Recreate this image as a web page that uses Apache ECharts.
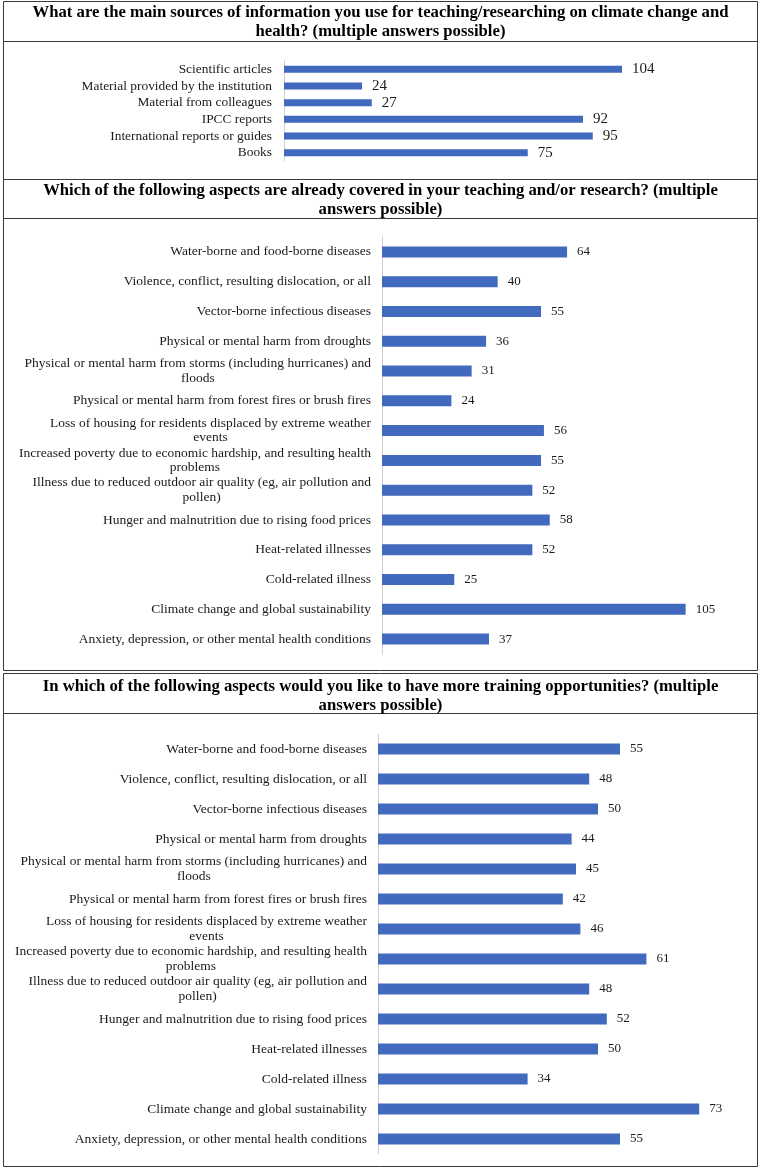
<!DOCTYPE html>
<html>
<head>
	<meta charset="utf-8">
	<title>Climate change and health survey</title>
	<script src="https://cdn.jsdelivr.net/npm/echarts@6/dist/echarts.min.js"></script>
	<style type="text/css">
		html, body { margin: 0; padding: 0; background: #ffffff; }
		#main { width: 761px; height: 1175px; }
	</style>
</head>
<body>
	<div id="main"></div>
	<script type="text/javascript">
		// panel 1: sources of information
		var sources = ['Scientific articles', 'Material provided by the institution', 'Material from colleagues',
			'IPCC reports', 'International reports or guides', 'Books'];
		var sourceCounts = [104, 24, 27, 92, 95, 75];

		// panels 2 and 3 share the same aspects
		var aspects = [
			'Water-borne and food-borne diseases',
			'Violence, conflict, resulting dislocation, or all',
			'Vector-borne infectious diseases',
			'Physical or mental harm from droughts',
			'Physical or mental harm from storms (including hurricanes) and\nfloods',
			'Physical or mental harm from forest fires or brush fires',
			'Loss of housing for residents displaced by extreme weather\nevents',
			'Increased poverty due to economic hardship, and resulting health\nproblems',
			'Illness due to reduced outdoor air quality (eg, air pollution and\npollen)',
			'Hunger and malnutrition due to rising food prices',
			'Heat-related illnesses',
			'Cold-related illness',
			'Climate change and global sustainability',
			'Anxiety, depression, or other mental health conditions'
		];
		var coveredCounts = [64, 40, 55, 36, 31, 24, 56, 55, 52, 58, 52, 25, 105, 37];
		var trainingCounts = [55, 48, 50, 44, 45, 42, 46, 61, 48, 52, 50, 34, 73, 55];

		var titles = [
			'What are the main sources of information you use for teaching/researching on climate change and\nhealth? (multiple answers possible)',
			'Which of the following aspects are already covered in your teaching and/or research? (multiple\nanswers possible)',
			'In which of the following aspects would you like to have more training opportunities? (multiple\nanswers possible)'
		];

		var FONT = 'Liberation Serif';
		var BLUE = '#4169BE';

		function catAxis(idx, data, size, margin) {
			return {
				type: 'category',
				gridIndex: idx,
				data: data,
				inverse: true,
				axisLine: { lineStyle: { color: '#d0d0d0', width: 1 } },
				axisTick: { show: false },
				axisLabel: {
					interval: 0,
					margin: margin,
					color: '#1a1a1a',
					fontFamily: FONT,
					fontSize: size,
					formatter: function (v) { return '{c|' + v + '}'; },
					rich: { c: { align: 'center', fontFamily: FONT, fontSize: size, lineHeight: 14.5, color: '#1a1a1a' } }
				}
			};
		}
		function valAxis(idx, max) {
			return { type: 'value', gridIndex: idx, min: 0, max: max, show: false, splitLine: { show: false } };
		}
		function barSeries(idx, data, barW, size, dist) {
			return {
				type: 'bar',
				xAxisIndex: idx,
				yAxisIndex: idx,
				data: data,
				barWidth: barW,
				itemStyle: { color: BLUE },
				label: { show: true, position: 'right', distance: dist, color: '#1a1a1a', fontFamily: FONT, fontSize: size }
			};
		}
		function title(text, top) {
			return {
				text: text, left: 'center', top: top, padding: 0,
				textStyle: { fontFamily: FONT, fontWeight: 'bold', fontSize: 16.7, lineHeight: 19, color: '#000' }
			};
		}
		function box(x, y, w, h) {
			return { type: 'rect', shape: { x: x, y: y, width: w, height: h }, style: { fill: 'none', stroke: '#3a3a3a', lineWidth: 1 }, silent: true };
		}

		var myChart = echarts.init(document.getElementById('main'));
		var option = {
			animation: false,
			title: [title(titles[0], 3), title(titles[1], 181.5), title(titles[2], 677)],
			grid: [
				{ left: 284, right: 22, top: 61, height: 100 },
				{ left: 382, right: 32, top: 237, height: 417 },
				{ left: 378, right: 31, top: 734, height: 420 }
			],
			xAxis: [valAxis(0, 140), valAxis(1, 120), valAxis(2, 80)],
			yAxis: [catAxis(0, sources, 13.4, 12), catAxis(1, aspects, 13.5, 11), catAxis(2, aspects, 13.5, 11)],
			series: [
				barSeries(0, sourceCounts, 7, 15, 10),
				barSeries(1, coveredCounts, 11, 13, 10),
				barSeries(2, trainingCounts, 11, 13, 10)
			],
			graphic: [
				box(3.5, 1.5, 754, 40),
				box(3.5, 41.5, 754, 138),
				box(3.5, 179.5, 754, 39),
				box(3.5, 218.5, 754, 452),
				box(3.5, 673.5, 754, 40),
				box(3.5, 713.5, 754, 453)
			]
		};
		myChart.setOption(option);
	</script>
</body>
</html>
